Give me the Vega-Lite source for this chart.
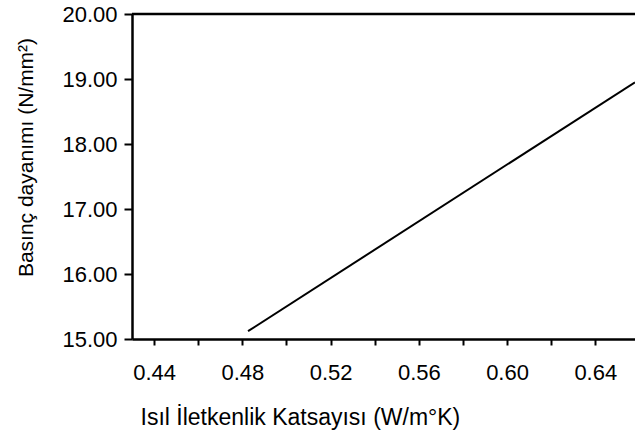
{
  "$schema": "https://vega.github.io/schema/vega-lite/v6.json",
  "width": 503,
  "height": 325,
  "autosize": "none",
  "padding": {"left": 132, "top": 14, "right": 0, "bottom": 105},
  "background": "white",
  "config": {"view": {"stroke": null}, "font": "Liberation Sans"},
  "layer": [
    {
      "data": {"values": [{"k": 0.4826, "s": 15.12}, {"k": 0.658, "s": 18.95}]},
      "mark": {"type": "line", "color": "black", "strokeWidth": 2, "clip": true},
      "encoding": {
        "x": {
          "field": "k", "type": "quantitative",
          "scale": {"domain": [0.43, 0.658], "nice": false, "zero": false},
          "axis": {
            "title": "Isıl İletkenlik Katsayısı (W/m°K)",
            "values": [0.44, 0.46, 0.48, 0.5, 0.52, 0.54, 0.56, 0.58, 0.6, 0.62, 0.64],
            "labelExpr": "round(datum.value*100) % 4 === 0 ? format(datum.value, '.2f') : ''",
            "grid": false,
            "domainColor": "black", "domainWidth": 2.5,
            "tickColor": "black", "tickWidth": 2, "tickSize": 6,
            "labelFont": "Liberation Sans", "labelFontSize": 22, "labelColor": "black",
            "labelPadding": 17, "labelFlush": false, "labelOverlap": false,
            "titleFont": "Liberation Sans", "titleFontSize": 23, "titleFontWeight": "normal", "titleColor": "black",
            "titleX": 8, "titleY": 85, "titleAlign": "left", "titleBaseline": "alphabetic", "titleAnchor": "start"
          }
        },
        "y": {
          "field": "s", "type": "quantitative",
          "scale": {"domain": [15, 20], "nice": false, "zero": false},
          "axis": {
            "title": "Basınç dayanımı (N/mm²)",
            "values": [15, 15.5, 16, 16.5, 17, 17.5, 18, 18.5, 19, 19.5, 20],
            "labelExpr": "datum.value % 1 === 0 ? format(datum.value, '.2f') : ''",
            "grid": false,
            "domainColor": "black", "domainWidth": 2.5,
            "tickColor": "black", "tickWidth": 2,
            "tickSize": {"condition": {"test": "datum.value % 1 === 0", "value": 8}, "value": 5},
            "labelFont": "Liberation Sans", "labelFontSize": 22, "labelColor": "black",
            "labelPadding": 7, "labelFlush": false, "labelOverlap": false,
            "titleFont": "Liberation Sans", "titleFontSize": 21, "titleFontWeight": "normal", "titleColor": "black",
            "titleX": -106, "titleY": 143, "titleAngle": 270, "titleAlign": "center", "titleBaseline": "middle"
          }
        }
      }
    },
    {
      "data": {"values": [{"s": 20}]},
      "mark": {"type": "rule", "color": "black", "strokeWidth": 2.5},
      "encoding": {"y": {"field": "s", "type": "quantitative"}}
    }
  ]
}
